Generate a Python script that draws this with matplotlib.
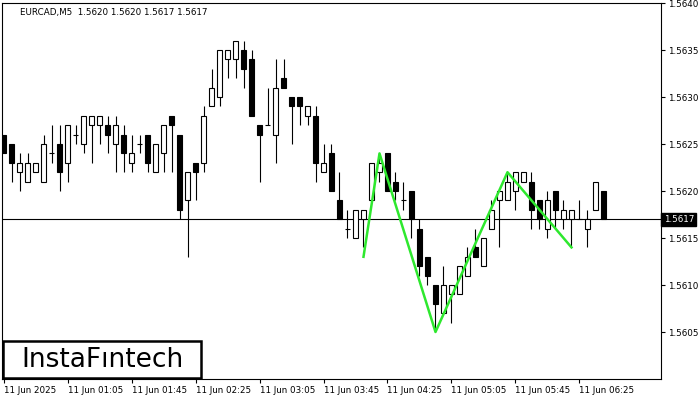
import matplotlib
matplotlib.use("Agg")
import matplotlib.pyplot as plt
from matplotlib.patches import Rectangle
import matplotlib.transforms as mtransforms

SYMBOL = "EURCAD,M5"
LAST_PRICE = 1.5617

opens = [1.5626, 1.5625, 1.5622, 1.5621, 1.5622, 1.5621, 1.5624, 1.5625, 1.5623, 1.5626,
         1.5625, 1.5627, 1.5627, 1.5627, 1.5625, 1.5626, 1.5623, 1.5625, 1.5626, 1.5622,
         1.5624, 1.5628, 1.5626, 1.5619, 1.5623, 1.5623, 1.5629, 1.5630, 1.5634, 1.5634,
         1.5635, 1.5634, 1.5627, 1.5627, 1.5626, 1.5632, 1.5630, 1.5630, 1.5628, 1.5628,
         1.5622, 1.5624, 1.5619, 1.5616, 1.5615, 1.5617, 1.5619, 1.5622, 1.5624, 1.5621,
         1.5619, 1.5620, 1.5616, 1.5613, 1.5610, 1.5607, 1.5609, 1.5609, 1.5611, 1.5614,
         1.5612, 1.5616, 1.5619, 1.5619, 1.5620, 1.5621, 1.5621, 1.5619, 1.5616, 1.5620,
         1.5617, 1.5617, 1.5617, 1.5616, 1.5618, 1.5620]
highs = [1.5626, 1.5625, 1.5624, 1.5624, 1.5623, 1.5626, 1.5627, 1.5627, 1.5627, 1.5627,
         1.5628, 1.5628, 1.5628, 1.5628, 1.5628, 1.5627, 1.5626, 1.5626, 1.5626, 1.5625,
         1.5627, 1.5628, 1.5626, 1.5622, 1.5623, 1.5629, 1.5633, 1.5635, 1.5635, 1.5636,
         1.5636, 1.5635, 1.5627, 1.5631, 1.5634, 1.5634, 1.5630, 1.5630, 1.5629, 1.5629,
         1.5625, 1.5625, 1.5622, 1.5618, 1.5618, 1.5618, 1.5623, 1.5624, 1.5624, 1.5622,
         1.5621, 1.5620, 1.5617, 1.5613, 1.5610, 1.5612, 1.5610, 1.5612, 1.5614, 1.5616,
         1.5615, 1.5619, 1.5620, 1.5622, 1.5622, 1.5622, 1.5622, 1.5619, 1.5620, 1.5620,
         1.5619, 1.5618, 1.5619, 1.5618, 1.5621, 1.5620]
lows = [1.5624, 1.5621, 1.5620, 1.5621, 1.5622, 1.5621, 1.5623, 1.5620, 1.5621, 1.5625,
        1.5624, 1.5623, 1.5625, 1.5624, 1.5622, 1.5622, 1.5622, 1.5624, 1.5622, 1.5622,
        1.5622, 1.5622, 1.5617, 1.5613, 1.5619, 1.5622, 1.5629, 1.5629, 1.5632, 1.5632,
        1.5631, 1.5628, 1.5621, 1.5627, 1.5623, 1.5631, 1.5625, 1.5627, 1.5627, 1.5621,
        1.5622, 1.5620, 1.5617, 1.5615, 1.5615, 1.5614, 1.5619, 1.5621, 1.5620, 1.5619,
        1.5618, 1.5615, 1.5611, 1.5610, 1.5605, 1.5607, 1.5606, 1.5609, 1.5611, 1.5613,
        1.5612, 1.5616, 1.5614, 1.5619, 1.5618, 1.5621, 1.5616, 1.5616, 1.5615, 1.5616,
        1.5616, 1.5614, 1.5617, 1.5614, 1.5618, 1.5617]
closes = [1.5624, 1.5623, 1.5623, 1.5623, 1.5623, 1.5625, 1.5624, 1.5622, 1.5627, 1.5626,
          1.5628, 1.5628, 1.5628, 1.5626, 1.5627, 1.5624, 1.5624, 1.5625, 1.5623, 1.5625,
          1.5627, 1.5627, 1.5618, 1.5622, 1.5622, 1.5628, 1.5631, 1.5635, 1.5635, 1.5636,
          1.5633, 1.5628, 1.5626, 1.5627, 1.5631, 1.5631, 1.5629, 1.5629, 1.5629, 1.5623,
          1.5623, 1.5620, 1.5617, 1.5616, 1.5618, 1.5618, 1.5623, 1.5623, 1.5620, 1.5620,
          1.5619, 1.5617, 1.5612, 1.5611, 1.5608, 1.5610, 1.5610, 1.5612, 1.5613, 1.5613,
          1.5615, 1.5618, 1.5620, 1.5621, 1.5622, 1.5622, 1.5618, 1.5617, 1.5619, 1.5618,
          1.5618, 1.5618, 1.5617, 1.5617, 1.5621, 1.5617]

# triple-top style pattern drawn over the candles (bar index, price)
pattern_bars = [45, 47, 54, 63, 71]
pattern_prices = [1.5613, 1.5624, 1.5605, 1.5622, 1.5614]

tick_bars = [0, 8, 16, 24, 32, 40, 48, 56, 64, 72]
tick_labels = ["11 Jun 2025", "11 Jun 01:05", "11 Jun 01:45", "11 Jun 02:25", "11 Jun 03:05",
               "11 Jun 03:45", "11 Jun 04:25", "11 Jun 05:05", "11 Jun 05:45", "11 Jun 06:25"]
price_ticks = [1.5605, 1.5610, 1.5615, 1.5620, 1.5625, 1.5630, 1.5635, 1.5640]

W, H = 700, 400
fig = plt.figure(figsize=(7, 4), dpi=100)
ax = fig.add_axes([2 / W, (H - 379) / H, 659 / W, 376 / H])
ax.set_xlim(-0.19, 82.19)
ax.set_ylim(1.5600, 1.5640)

body_w = 0.6
for i in range(len(opens)):
    o, h, l, c = opens[i], highs[i], lows[i], closes[i]
    ax.vlines(i, l, h, color="black", lw=0.8, zorder=2)
    bottom = min(o, c)
    face = "white" if c >= o else "black"
    ax.add_patch(Rectangle((i - body_w / 2, bottom), body_w, abs(c - o),
                           facecolor=face, edgecolor="black", lw=0.8, zorder=3))

ax.axhline(LAST_PRICE, color="black", lw=0.8, zorder=1)
ax.plot(pattern_bars, pattern_prices, color="#2ee82e", lw=1.8, zorder=4)

ax.yaxis.tick_right()
ax.set_yticks(price_ticks)
ax.set_yticklabels([f"{p:.4f}" for p in price_ticks])
ax.set_xticks(tick_bars)
ax.set_xticklabels(tick_labels)
for lbl in ax.get_xticklabels():
    lbl.set_ha("left")
ax.tick_params(axis="both", labelsize=6.3, length=3, width=0.8, direction="out", pad=2)
for sp in ax.spines.values():
    sp.set_linewidth(0.8)

# current price marker on the price scale
trans = mtransforms.blended_transform_factory(ax.transAxes, ax.transData)
ax.text(1.004, LAST_PRICE, f"{LAST_PRICE:.4f}", transform=trans, color="white",
        fontsize=6.3, va="center", ha="left",
        bbox=dict(boxstyle="square,pad=0.25", fc="black", ec="black"), clip_on=False)

ax.text(18 / 659, 1 - 9 / 376,
        f"{SYMBOL}  {opens[-1]:.4f} {highs[-1]:.4f} {lows[-1]:.4f} {closes[-1]:.4f}",
        transform=ax.transAxes, fontsize=6.3, va="center", ha="left")

# logo box
ax.add_patch(Rectangle((3 / W, (H - 378) / H), 198 / W, 37 / H, transform=fig.transFigure,
                       facecolor="white", edgecolor="black", lw=1.8, zorder=5, clip_on=False))
fig.text(102 / W, (H - 360) / H, "InstaF\u0131ntech", fontsize=19, ha="center", va="center",
         color="black", zorder=6)

fig.savefig("out.png", dpi=100)
